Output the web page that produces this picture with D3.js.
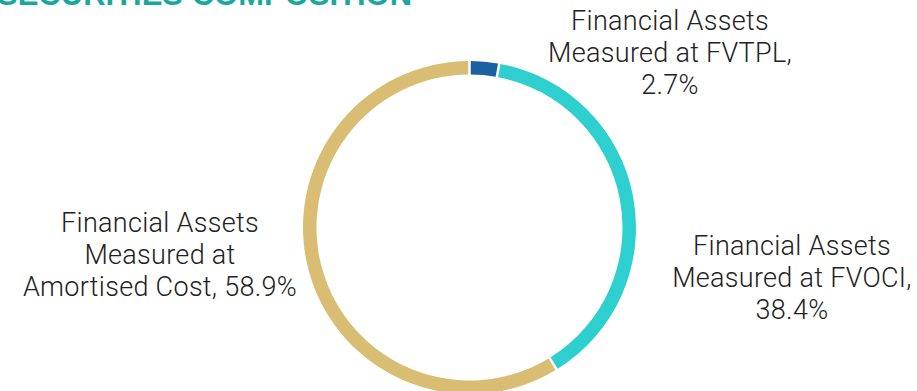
<!DOCTYPE html>
<html>
<head>
<meta charset="utf-8">
<script src="https://cdn.jsdelivr.net/npm/d3@7"></script>
<style>
  html, body { margin: 0; padding: 0; background: #ffffff; }
  svg { display: block; }
</style>
</head>
<body>
<svg id="chart" width="917" height="391"></svg>
<script>
// Securities composition by measurement category (% of total)
const categories = [
  "Financial Assets Measured at FVTPL",
  "Financial Assets Measured at FVOCI",
  "Financial Assets Measured at Amortised Cost"
];
const shares = [2.7, 38.4, 58.9];
const colors = ["#1b61a0", "#2ecfcf", "#d8bd72"];
// Label text, split into lines
const labelLines = [
  ["Financial Assets", "Measured at FVTPL,", "2.7%"],
  ["Financial Assets", "Measured at FVOCI,", "38.4%"],
  ["Financial Assets", "Measured at", "Amortised Cost, 58.9%"]
];
const title = "SECURITIES COMPOSITION";

const svg = d3.select("#chart");
const cx = 469.5, cy = 227.5;
const outerR = 166.5, innerR = 153;

svg.append("text")
  .attr("x", -3)
  .attr("y", 5)
  .attr("font-family", "Liberation Sans, Arial, sans-serif")
  .attr("font-weight", "bold")
  .attr("font-size", 31)
  .attr("fill", "#17a89e")
  .text(title);

const data = categories.map((c, i) => ({ name: c, value: shares[i], color: colors[i], lines: labelLines[i] }));

const pie = d3.pie().value(d => d.value).sort(null).padAngle(0.011);
const arc = d3.arc().innerRadius(innerR).outerRadius(outerR);

const g = svg.append("g").attr("transform", `translate(${cx},${cy})`);
g.selectAll("path")
  .data(pie(data))
  .join("path")
  .attr("d", arc)
  .attr("fill", d => d.data.color);

// Label anchor points (centre x, first baseline y)
const labelPos = [
  { x: 670, y: 30 },
  { x: 792, y: 255 },
  { x: 160, y: 232 }
];
const lineH = 32;

data.forEach((d, i) => {
  const t = svg.append("text")
    .attr("text-anchor", "middle")
    .attr("font-family", "Roboto, sans-serif")
    .attr("font-weight", 300)
    .attr("font-size", 27)
    .attr("letter-spacing", 0.3)
    .attr("fill", "#222222");
  d.lines.forEach((ln, j) => {
    t.append("tspan")
      .attr("x", labelPos[i].x)
      .attr("y", labelPos[i].y + j * lineH)
      .text(ln);
  });
});
</script>
</body>
</html>
